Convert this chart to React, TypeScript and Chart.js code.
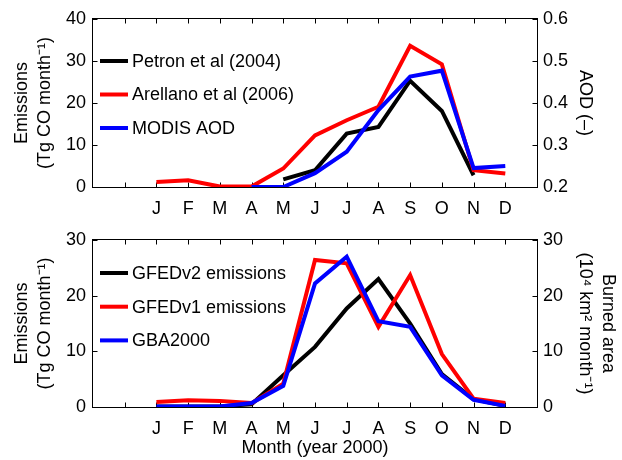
import React, { useEffect, useRef } from "react";
import { Chart, registerables } from "chart.js";

Chart.register(...registerables);

// ---------- data ----------
const MONTHS = ["J", "F", "M", "A", "M", "J", "J", "A", "S", "O", "N", "D"];
const X_TICKS = [0, 1, 2, 3, 4, 5, 6, 7, 8, 9, 10, 11, 12];

// top panel (Tg CO / month, AOD)
const PETRON_2004 = [null, null, null, null, 1.8, 4.0, 12.7, 14.3, 25.3, 18.1, 2.8, null];
const ARELLANO_2006 = [1.2, 1.6, 0.1, 0.1, 4.4, 12.3, 15.9, 19.1, 33.6, 29.2, 4.0, 3.2];
const MODIS_AOD = [null, null, null, 0.2, 0.2, 0.233, 0.284, 0.383, 0.463, 0.477, 0.245, 0.25];

// bottom panel (Tg CO / month, burned area)
const GFEDV2 = [0.1, 0.1, 0.1, 0.5, 5.7, 10.8, 17.7, 23.0, 15.0, 5.9, 1.4, 0.2];
const GFEDV1 = [0.9, 1.2, 1.1, 0.7, 4.2, 26.4, 25.8, 14.4, 23.7, 9.5, 1.5, 0.7];
const GBA2000 = [0.1, 0.1, 0.1, 0.7, 3.8, 22.2, 27.0, 15.4, 14.4, 5.7, 1.3, 0.2];

const TOP_LABELS = ["Petron et al (2004)", "Arellano et al (2006)", "MODIS AOD"];
const BOTTOM_LABELS = ["GFEDv2 emissions", "GFEDv1 emissions", "GBA2000"];

// ---------- styling ----------
const FONT = '"Liberation Sans", Arial, Helvetica, sans-serif';
const FS = 18;
Chart.defaults.font.family = FONT;
Chart.defaults.font.size = FS;
Chart.defaults.color = "#000";

const BLACK = "#000000";
const RED = "#ff0000";
const BLUE = "#0000ff";

const toPoints = (arr: (number | null)[]) => arr.map((v, i) => ({ x: i + 1, y: v }));

const framePlugin = {
  id: "frameTicks",
  beforeDatasetsDraw(chart: any) {
    const { ctx, chartArea, scales } = chart;
    const left = Math.round(chartArea.left) - 0.5;
    const right = Math.round(chartArea.right) + 0.5;
    const top = Math.round(chartArea.top) - 0.5;
    const bottom = Math.round(chartArea.bottom) + 0.5;
    const L = 5;
    ctx.save();
    ctx.strokeStyle = "#000";
    ctx.lineWidth = 1;
    ctx.strokeRect(left, top, right - left, bottom - top);
    ctx.beginPath();
    scales.x.ticks.forEach((t: any) => {
      const px = Math.round(scales.x.getPixelForValue(t.value)) + 0.5;
      ctx.moveTo(px, bottom);
      ctx.lineTo(px, bottom - L);
      ctx.moveTo(px, top);
      ctx.lineTo(px, top + L);
    });
    scales.y.ticks.forEach((t: any) => {
      const py = Math.round(scales.y.getPixelForValue(t.value)) + 0.5;
      ctx.moveTo(left, py);
      ctx.lineTo(left + L, py);
    });
    scales.y1.ticks.forEach((t: any) => {
      const py = Math.round(scales.y1.getPixelForValue(t.value)) + 0.5;
      ctx.moveTo(right, py);
      ctx.lineTo(right - L, py);
    });
    ctx.stroke();
    ctx.restore();
  },
};

const legendPlugin = {
  id: "inlineLegend",
  afterDatasetsDraw(chart: any, _args: any, opts: any) {
    const { ctx, chartArea } = chart;
    ctx.save();
    ctx.font = `${opts.fontSize}px ${FONT}`;
    ctx.textBaseline = "middle";
    ctx.textAlign = "left";
    chart.data.datasets.forEach((ds: any, i: number) => {
      const y = chartArea.top + opts.y0 + i * opts.dy;
      const x0 = chartArea.left + opts.x0;
      ctx.strokeStyle = ds.borderColor;
      ctx.lineWidth = 4;
      ctx.beginPath();
      ctx.moveTo(x0, y);
      ctx.lineTo(x0 + opts.lineLen, y);
      ctx.stroke();
      ctx.fillStyle = "#000";
      ctx.fillText(ds.label, x0 + opts.lineLen + opts.gap, y + 1);
    });
    ctx.restore();
  },
};

function lineDs(label: string, arr: (number | null)[], color: string, yAxisID: string, order: number) {
  return {
    label,
    data: toPoints(arr),
    borderColor: color,
    backgroundColor: color,
    borderWidth: 4,
    pointRadius: 0,
    tension: 0,
    yAxisID,
    order,
    spanGaps: false,
  };
}

function makeConfig(p: any): any {
  return {
    type: "line",
    data: { datasets: p.datasets },
    options: {
      responsive: true,
      maintainAspectRatio: false,
      animation: false,
      events: [],
      layout: { padding: { top: p.padTop, left: 0, right: 0, bottom: 0 } },
      plugins: {
        legend: { display: false },
        tooltip: { enabled: false },
        inlineLegend: { x0: 7, y0: p.legendY0, dy: p.legendDy, lineLen: 28, gap: 4, fontSize: FS },
      },
      scales: {
        x: {
          type: "linear",
          min: -1,
          max: 13,
          afterBuildTicks: (s: any) => {
            s.ticks = X_TICKS.map((v) => ({ value: v }));
          },
          afterFit: (s: any) => {
            s.height = p.xHeight;
          },
          grid: { display: false, drawTicks: false },
          border: { display: false },
          ticks: {
            autoSkip: false,
            maxRotation: 0,
            padding: 11,
            font: { size: FS },
            callback: (v: any) => MONTHS[v - 1] ?? "",
          },
          title: p.xTitle
            ? { display: true, text: p.xTitle, font: { size: FS }, padding: { top: 0, bottom: 1 } }
            : { display: false },
        },
        y: {
          position: "left",
          min: 0,
          max: p.yMax,
          afterFit: (s: any) => {
            s.width = 93;
          },
          grid: { display: false, drawTicks: false },
          border: { display: false },
          ticks: { stepSize: 10, padding: 7, font: { size: FS } },
          title: {
            display: true,
            text: ["Emissions", "(Tg CO month\u207B\u00B9)"],
            font: { size: FS, lineHeight: 1.3 },
            padding: { top: 10, bottom: 0 },
          },
        },
        y1: {
          position: "right",
          min: p.y1Min,
          max: p.y1Max,
          afterFit: (s: any) => {
            s.width = 85;
          },
          grid: { display: false, drawTicks: false },
          border: { display: false },
          ticks: {
            stepSize: p.y1Step,
            padding: 6,
            font: { size: FS },
            callback: (v: any) => (p.y1Decimals ? Number(v).toFixed(1) : String(v)),
          },
          title: {
            display: true,
            text: p.y1Title,
            font: { size: FS, lineHeight: 1.3 },
            padding: { top: p.y1TitlePad, bottom: 0 },
          },
        },
      },
    },
    plugins: [framePlugin, legendPlugin],
  };
}

export default function App() {
  const topRef = useRef<HTMLCanvasElement>(null);
  const botRef = useRef<HTMLCanvasElement>(null);

  useEffect(() => {
    const top = new Chart(
      topRef.current as HTMLCanvasElement,
      makeConfig({
        datasets: [
          lineDs(TOP_LABELS[0], PETRON_2004, BLACK, "y", 2),
          lineDs(TOP_LABELS[1], ARELLANO_2006, RED, "y", 1),
          lineDs(TOP_LABELS[2], MODIS_AOD, BLUE, "y1", 0),
        ],
        padTop: 19,
        xHeight: 33,
        yMax: 40,
        y1Min: 0.2,
        y1Max: 0.6,
        y1Step: 0.1,
        y1Decimals: true,
        y1Title: "AOD (\u2013)",
        y1TitlePad: 25,
        legendY0: 42,
        legendDy: 33.5,
      })
    );
    const bottom = new Chart(
      botRef.current as HTMLCanvasElement,
      makeConfig({
        datasets: [
          lineDs(BOTTOM_LABELS[0], GFEDV2, BLACK, "y", 2),
          lineDs(BOTTOM_LABELS[1], GFEDV1, RED, "y", 1),
          lineDs(BOTTOM_LABELS[2], GBA2000, BLUE, "y1", 0),
        ],
        padTop: 20,
        xHeight: 53,
        yMax: 30,
        y1Min: 0,
        y1Max: 30,
        y1Step: 10,
        y1Decimals: false,
        y1Title: ["Burned area", "(10\u2074 km\u00B2 month\u207B\u00B9)"],
        y1TitlePad: 2,
        xTitle: "Month (year 2000)",
        legendY0: 33,
        legendDy: 33.7,
      })
    );
    return () => {
      top.destroy();
      bottom.destroy();
    };
  }, []);

  return (
    <div style={{ position: "absolute", left: 0, top: 0, width: 622, height: 460, background: "#fff" }}>
      <div style={{ position: "absolute", left: 0, top: 0, width: 622, height: 220 }}>
        <canvas ref={topRef} />
      </div>
      <div style={{ position: "absolute", left: 0, top: 220, width: 622, height: 240 }}>
        <canvas ref={botRef} />
      </div>
    </div>
  );
}
